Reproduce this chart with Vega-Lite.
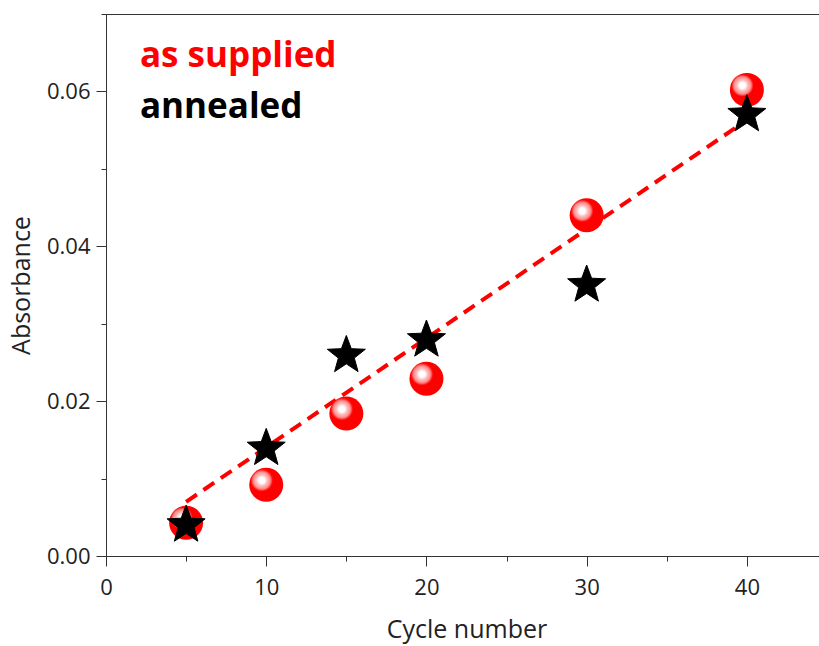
{
  "$schema": "https://vega.github.io/schema/vega-lite/v6.json",
  "autosize": "none",
  "padding": {"left": 106, "top": 14, "right": 0, "bottom": 90},
  "width": 721,
  "height": 542,
  "config": {
    "font": "Open Sans",
    "view": {"stroke": "#333333", "strokeWidth": 1},
    "axis": {
      "grid": false,
      "labelFlush": false,
      "domainColor": "#333333",
      "tickColor": "#333333",
      "labelFont": "Open Sans",
      "labelFontSize": 22,
      "labelColor": "#222222",
      "titleFont": "Open Sans",
      "titleFontSize": 25,
      "titleFontWeight": "normal",
      "titleColor": "#222222"
    }
  },
  "datasets": {
    "absorbance": [
      {"cycle": 5, "absorbance": 0.0043, "sample": "as supplied"},
      {"cycle": 10, "absorbance": 0.0092, "sample": "as supplied"},
      {"cycle": 15, "absorbance": 0.0184, "sample": "as supplied"},
      {"cycle": 20, "absorbance": 0.0229, "sample": "as supplied"},
      {"cycle": 30, "absorbance": 0.044, "sample": "as supplied"},
      {"cycle": 40, "absorbance": 0.0602, "sample": "as supplied"},
      {"cycle": 5, "absorbance": 0.004, "sample": "annealed"},
      {"cycle": 10, "absorbance": 0.0139, "sample": "annealed"},
      {"cycle": 15, "absorbance": 0.0259, "sample": "annealed"},
      {"cycle": 20, "absorbance": 0.0279, "sample": "annealed"},
      {"cycle": 30, "absorbance": 0.035, "sample": "annealed"},
      {"cycle": 40, "absorbance": 0.057, "sample": "annealed"}
    ],
    "fit": [
      {"cycle": 5, "absorbance": 0.007},
      {"cycle": 40, "absorbance": 0.0563}
    ],
    "key": [
      {"cycle": 2.12, "absorbance": 0.06315, "label": "as supplied", "colour": "#ff0000"},
      {"cycle": 2.12, "absorbance": 0.0566, "label": "annealed", "colour": "#000000"}
    ]
  },
  "encoding": {
    "x": {
      "field": "cycle",
      "type": "quantitative",
      "scale": {"domain": [0, 45], "nice": false, "zero": false},
      "axis": {
        "title": "Cycle number",
        "values": [0, 5, 10, 15, 20, 25, 30, 35, 40],
        "labelExpr": "datum.value % 10 === 0 ? datum.label : ''",
        "tickSize": {"condition": {"test": "datum.value % 10 !== 0", "value": 5}, "value": 10},
        "labelPadding": 11,
        "titlePadding": 19
      }
    },
    "y": {
      "field": "absorbance",
      "type": "quantitative",
      "scale": {"domain": [0, 0.07], "nice": false},
      "axis": {
        "title": "Absorbance",
        "values": [0, 0.01, 0.02, 0.03, 0.04, 0.05, 0.06, 0.07],
        "labelExpr": "round(datum.value * 100) % 2 === 0 ? format(datum.value, '.2f') : ''",
        "tickSize": {"condition": {"test": "round(datum.value * 100) % 2 === 1", "value": 5}, "value": 10},
        "labelPadding": 6,
        "titlePadding": 12
      }
    }
  },
  "layer": [
    {
      "data": {"name": "fit"},
      "mark": {"type": "line", "color": "#ff0000", "strokeWidth": 4, "strokeDash": [13, 8]},
      "encoding": {}
    },
    {
      "data": {"name": "absorbance"},
      "transform": [{"filter": "datum.sample === 'as supplied'"}],
      "mark": {
        "type": "point",
        "shape": "circle",
        "filled": true,
        "opacity": 1,
        "size": 1156,
        "fill": {
          "gradient": "radial",
          "x1": 0.37, "y1": 0.37, "r1": 0,
          "x2": 0.37, "y2": 0.37, "r2": 0.6,
          "stops": [
            {"offset": 0, "color": "#ffffff"},
            {"offset": 0.15, "color": "#ffffff"},
            {"offset": 0.26, "color": "#ffc0c0"},
            {"offset": 0.42, "color": "#ff8c8c"},
            {"offset": 0.54, "color": "#ff0000"},
            {"offset": 1, "color": "#ff0000"}
          ]
        }
      }
    },
    {
      "data": {"name": "absorbance"},
      "transform": [{"filter": "datum.sample === 'annealed'"}],
      "mark": {
        "type": "point",
        "shape": "M0,-1L0.247,-0.34L0.951,-0.309L0.399,0.13L0.588,0.809L0,0.42L-0.588,0.809L-0.399,0.13L-0.951,-0.309L-0.247,-0.34Z",
        "filled": true,
        "opacity": 1,
        "size": 1600,
        "fill": "#000000",
        "stroke": "#000000",
        "strokeWidth": 1
      }
    },
    {
      "data": {"name": "key"},
      "mark": {"type": "text", "align": "left", "baseline": "alphabetic", "font": "Open Sans", "fontSize": 35, "fontWeight": "bold"},
      "encoding": {
        "text": {"field": "label"},
        "color": {"field": "colour", "type": "nominal", "scale": null}
      }
    }
  ]
}
